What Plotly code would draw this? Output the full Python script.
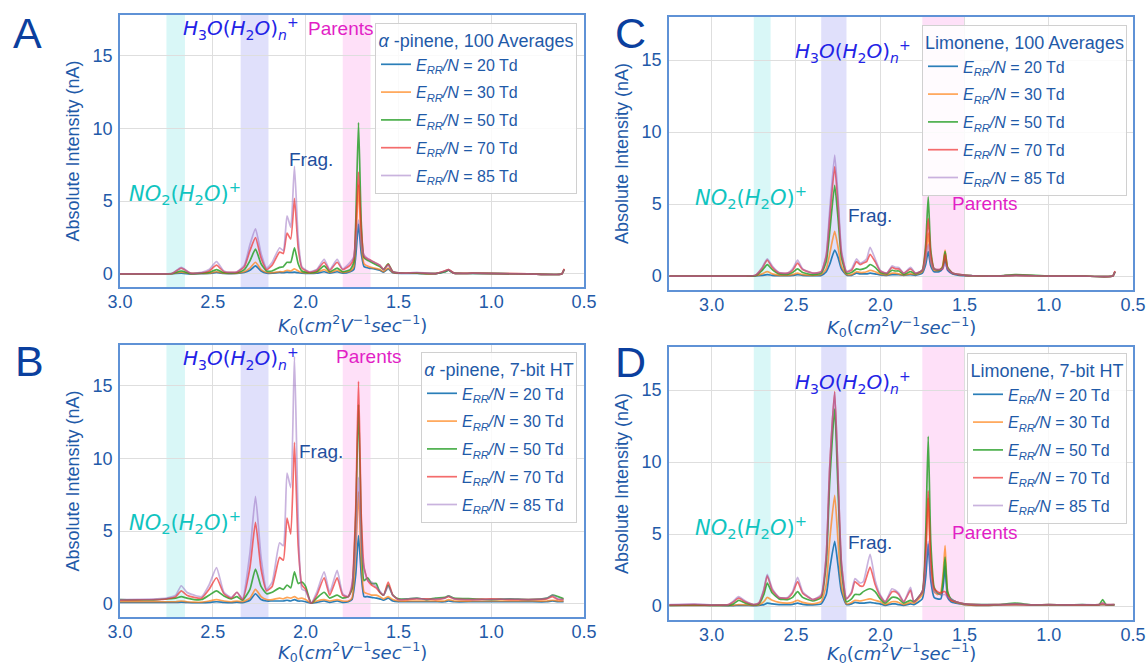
import plotly.graph_objects as go

# ---------------- data ----------------
energies = ["20", "30", "50", "70", "85"]

# Panel A: alpha-pinene, 100 averages
kA = [3.00, 2.80, 2.72, 2.67, 2.62, 2.56, 2.52, 2.48, 2.44, 2.40, 2.37, 2.33, 2.30, 2.27, 2.24, 2.21,
      2.18, 2.14, 2.12, 2.10, 2.08, 2.06, 2.04, 2.02, 1.98, 1.94, 1.90, 1.87, 1.83, 1.80, 1.76, 1.74,
      1.73, 1.715, 1.70, 1.685, 1.66, 1.63, 1.60, 1.58, 1.555, 1.53, 1.48, 1.40, 1.30, 1.25, 1.23,
      1.20, 1.10, 0.80, 0.62, 0.607]
A_20 = [0, 0, .01, .05, 0, .02, .03, .1, .03, .02, .03, .1, .25, .55, .2, .05,
        .05, .1, .08, .12, .1, .12, .08, .05, .03, .05, .15, .05, .15, .05, .15, .3,
        1.2, 3.4, 1.4, .5, .4, .35, .25, .12, .35, .08, .03, .03, .02, .15, .25,
        .05, .03, 0, 0, .3]
A_30 = [0, 0, .01, .12, .02, .03, .05, .15, .05, .03, .05, .15, .4, .8, .3, .1,
        .08, .15, .15, .25, .2, .35, .2, .1, .05, .1, .3, .1, .25, .1, .2, .5,
        2.0, 6.1, 2.0, .7, .5, .4, .3, .15, .4, .1, .05, .05, .02, .2, .3,
        .05, .05, 0, 0, .3]
A_50 = [0, 0, .02, .2, .02, .05, .1, .3, .08, .05, .08, .3, .9, 1.7, .7, .2,
        .2, .45, .5, .8, .8, 1.8, .7, .2, .08, .15, .55, .15, .4, .15, .3, .8,
        3.5, 10.4, 3.5, 1.1, .9, .7, .5, .3, .7, .15, .05, .05, .02, .15, .25,
        .05, .03, 0, 0, .3]
A_70 = [0, 0, .03, .4, .05, .08, .2, .6, .15, .1, .12, .5, 1.6, 2.5, 1.1, .3,
        .6, 1.5, 1.4, 2.8, 2.4, 5.2, 1.8, .4, .12, .25, .8, .25, .8, .3, .6, 1.1,
        3.0, 7.0, 3.0, 1.2, 1.0, .8, .6, .3, .65, .15, .05, .08, .02, .2, .3,
        .05, .05, 0, 0, .35]
A_85 = [0, 0, .03, .45, .05, .1, .3, .85, .2, .1, .15, .6, 2.0, 3.1, 1.4, .4,
        .8, 1.8, 1.6, 4.0, 3.2, 7.4, 2.5, .5, .15, .3, 1.0, .3, 1.0, .35, .8, 1.2,
        2.2, 3.7, 2.0, 1.3, 1.0, .8, .6, .3, .6, .15, .05, .1, .02, .2, .3,
        .05, .05, 0, 0, .3]

# Panel B: alpha-pinene, 7-bit HT
kB = [3.00, 2.90, 2.80, 2.75, 2.70, 2.67, 2.64, 2.60, 2.56, 2.52, 2.48, 2.44, 2.40, 2.37, 2.34, 2.30,
      2.27, 2.24, 2.21, 2.18, 2.14, 2.12, 2.10, 2.08, 2.06, 2.04, 2.02, 2.00, 1.97, 1.94, 1.90, 1.87,
      1.83, 1.80, 1.77, 1.75, 1.73, 1.715, 1.70, 1.685, 1.665, 1.645, 1.62, 1.60, 1.58, 1.555, 1.53,
      1.50, 1.45, 1.40, 1.35, 1.30, 1.25, 1.23, 1.20, 1.10, 1.00, 0.90, 0.80, 0.70, 0.67, 0.64, 0.61]
B_20 = [.1, .1, .1, .1, .1, .12, .1, .08, .08, .1, .15, .1, .08, .12, .08, .25,
        .7, .3, .2, .2, .2, .2, .25, .2, .3, .2, .2, .15, .05, .1, .2, .1,
        .2, .1, .15, .3, 2.0, 4.7, 2.0, .5, .5, .45, .4, .35, .25, .4, .2,
        .15, .15, .15, .15, .15, .15, .2, .15, .15, .15, .15, .15, .15, .2, .15, .15]
B_30 = [.15, .15, .15, .15, .15, .2, .15, .12, .12, .2, .3, .2, .15, .2, .15, .4,
        1.0, .5, .3, .3, .4, .35, .45, .4, .5, .35, .4, .3, .05, .2, .3, .2,
        .3, .2, .2, .4, 3.5, 7.7, 3.0, .8, .7, .6, .6, .5, .35, .5, .3,
        .2, .2, .2, .2, .2, .2, .3, .2, .2, .2, .2, .2, .2, .25, .2, .2]
B_50 = [.3, .28, .3, .35, .4, .5, .4, .3, .3, .6, .9, .55, .35, .5, .25, 1.0,
        2.4, 1.2, .7, .8, 1.1, 1.0, 1.3, 1.1, 2.2, 1.4, 1.5, 1.2, .05, .4, .8, .4,
        .6, .4, .5, 1.0, 6.0, 13.7, 5.5, 1.6, 1.8, 1.4, 1.4, .8, .6, 1.3, .6,
        .35, .35, .4, .3, .4, .45, .55, .4, .35, .3, .35, .3, .4, .6, .5, .35]
B_70 = [.25, .28, .3, .35, .5, .9, .6, .45, .4, 1.0, 1.8, .7, .4, .8, .3, 2.5,
        5.6, 2.4, .9, 1.2, 3.2, 3.0, 5.9, 4.8, 11.1, 4.0, 1.3, 1.0, .05, .6, 1.8, .6,
        1.8, .6, .5, 1.2, 6.5, 15.3, 6.0, 2.5, 1.6, 1.3, 1.1, .8, .6, 1.5, .6,
        .3, .3, .35, .35, .3, .4, .5, .35, .3, .35, .3, .3, .35, .5, .3, .3]
B_85 = [.3, .32, .35, .4, .6, 1.25, .8, .6, .5, 1.3, 2.5, .8, .45, .8, .35, 3.5,
        7.4, 3.2, 1.0, 1.5, 4.2, 4.0, 9.0, 8.0, 17.0, 6.0, 1.0, .9, .05, .8, 2.2, .8,
        2.3, .7, .5, 1.4, 4.0, 8.7, 4.0, 2.5, 1.6, 1.5, 1.2, .9, .6, 1.2, .6,
        .3, .35, .4, .3, .35, .4, .55, .35, .3, .3, .35, .3, .4, .6, .35, .3]

# Panel C: limonene, 100 averages
kC = [3.25, 3.00, 2.80, 2.74, 2.70, 2.67, 2.64, 2.60, 2.55, 2.52, 2.49, 2.46, 2.40, 2.35, 2.32, 2.30,
      2.27, 2.25, 2.23, 2.20, 2.17, 2.14, 2.12, 2.10, 2.08, 2.06, 2.03, 2.00, 1.96, 1.93, 1.91, 1.89,
      1.86, 1.82, 1.79, 1.75, 1.73, 1.715, 1.70, 1.68, 1.65, 1.63, 1.615, 1.60, 1.57, 1.53, 1.45,
      1.30, 1.20, 1.00, 0.80, 0.62, 0.607]
C_20 = [0, 0, 0, .01, .05, .1, .05, .03, .03, .05, .1, .05, .03, .05, .3, .8,
        1.8, 1.3, .5, .08, .05, .2, .15, .15, .15, .2, .15, .08, .05, .1, .1, .1,
        .05, .1, .05, .2, .8, 1.7, .7, .3, .3, .5, 1.2, .4, .15, .05, .02,
        0, .05, 0, 0, 0, .3]
C_30 = [0, 0, 0, .02, .15, .3, .15, .05, .05, .1, .2, .1, .05, .1, .5, 1.5,
        3.1, 2.0, .7, .1, .1, .3, .25, .25, .3, .4, .3, .15, .08, .2, .2, .15,
        .08, .15, .1, .3, 1.2, 3.0, 1.0, .4, .4, .7, 1.8, .6, .2, .1, .02,
        0, .05, 0, 0, 0, .3]
C_50 = [0, 0, 0, .03, .4, .8, .45, .15, .12, .25, .5, .25, .1, .2, 1.0, 3.0,
        6.3, 4.0, 1.3, .2, .25, .5, .45, .5, .6, .8, .6, .25, .15, .4, .35, .35,
        .12, .3, .15, .4, 2.2, 5.5, 1.8, .5, .4, .6, 1.7, .6, .2, .1, .02,
        0, .1, 0, 0, 0, .3]
C_70 = [0, 0, 0, .05, .55, 1.1, .6, .22, .2, .4, .9, .45, .2, .3, 1.4, 4.0,
        7.6, 5.0, 1.6, .3, .4, 1.0, .8, .9, 1.0, 1.5, 1.0, .35, .2, .6, .5, .5,
        .2, .5, .2, .4, 1.8, 4.0, 1.5, .5, .45, .5, 1.5, .5, .2, .1, .02,
        0, .05, 0, 0, 0, .35]
C_85 = [0, 0, 0, .05, .6, 1.2, .7, .25, .2, .5, 1.1, .5, .2, .3, 1.5, 4.5,
        8.4, 5.5, 1.8, .3, .5, 1.2, .9, 1.0, 1.2, 2.0, 1.2, .4, .2, .7, .6, .6,
        .2, .6, .2, .4, 1.2, 2.2, 1.0, .5, .45, .5, .8, .5, .2, .1, .02,
        0, .05, 0, 0, 0, .3]

# Panel D: limonene, 7-bit HT
kD = [3.25, 3.10, 3.00, 2.90, 2.87, 2.84, 2.80, 2.75, 2.72, 2.69, 2.67, 2.64, 2.60, 2.55, 2.52, 2.49,
      2.46, 2.40, 2.35, 2.32, 2.30, 2.27, 2.25, 2.23, 2.20, 2.17, 2.15, 2.12, 2.10, 2.06, 2.03, 2.00,
      1.97, 1.93, 1.91, 1.89, 1.86, 1.82, 1.80, 1.75, 1.73, 1.715, 1.70, 1.68, 1.66, 1.64, 1.625,
      1.615, 1.60, 1.58, 1.55, 1.50, 1.40, 1.30, 1.20, 1.10, 1.00, 0.90, 0.80, 0.70, 0.68, 0.66, 0.61]
D_20 = [.05, .05, .05, .03, .03, .05, .05, .03, .05, .1, .2, .15, .1, .1, .12, .2,
        .12, .08, .15, .8, 2.5, 4.5, 2.8, 1.0, .1, .15, .25, .2, .2, .25, .2, .15,
        .05, .15, .15, .1, .05, .15, .1, .5, 2.0, 4.3, 1.8, .6, .5, .5, 1.5,
        2.8, .6, .3, .2, .1, .05, .08, .1, .08, .08, .08, .08, .08, .1, .08, .08]
D_30 = [.05, .05, .05, .05, .05, .1, .08, .05, .08, .3, .6, .4, .25, .2, .25, .4,
        .25, .15, .3, 1.5, 4.5, 7.7, 4.5, 1.4, .15, .25, .4, .35, .4, .5, .4, .3,
        .1, .3, .3, .25, .1, .25, .2, .8, 3.5, 7.5, 3.0, 1.0, .8, 1.0, 2.5,
        4.2, 1.0, .4, .25, .1, .05, .08, .1, .08, .08, .08, .08, .08, .1, .08, .08]
D_50 = [.05, .08, .05, .05, .15, .4, .2, .08, .15, .8, 1.6, .9, .5, .45, .6, 1.0,
        .6, .35, .6, 3.0, 8.5, 13.7, 8.0, 2.6, .3, .5, .8, .8, 1.0, 1.2, 1.0, .5,
        .2, .6, .6, .5, .2, .4, .3, 1.0, 5.0, 11.8, 4.5, 1.3, .9, .8, 2.0,
        3.4, 1.0, .5, .3, .15, .1, .1, .2, .08, .1, .08, .1, .1, .45, .1, .1]
D_70 = [.08, .1, .07, .1, .3, .55, .3, .1, .2, 1.1, 2.1, 1.1, .6, .55, .9, 1.7,
        .9, .45, .7, 3.5, 9.5, 14.9, 9.0, 3.0, .5, .9, 1.7, 1.4, 1.4, 2.7, 1.5, .7,
        .3, 1.0, 1.0, .8, .3, 1.1, .3, 1.0, 3.8, 8.0, 3.2, 1.2, 1.0, .9, 1.0,
        1.0, .7, .4, .3, .15, .08, .1, .12, .08, .1, .08, .08, .1, .2, .1, .1]
D_85 = [.1, .15, .08, .1, .35, .65, .35, .1, .2, 1.2, 2.2, 1.2, .6, .6, 1.0, 2.0,
        1.0, .45, .8, 3.5, 9.5, 14.8, 9.0, 3.0, .5, 1.0, 1.9, 1.6, 1.7, 3.6, 1.8, .8,
        .3, 1.2, 1.1, .9, .3, 1.3, .3, 1.0, 3.0, 4.5, 2.0, 1.0, .9, .8, .8,
        .8, .6, .5, .3, .15, .1, .1, .15, .08, .1, .08, .1, .1, .2, .1, .1]

legend_titles = ["<i>α</i> -pinene, 100 Averages", "<i>α</i> -pinene, 7-bit HT",
                 "Limonene, 100 Averages", "Limonene, 7-bit HT"]
panel_letters = ["A", "B", "C", "D"]
x_title = "<i>K</i><sub>0</sub>(<i>cm</i><sup>2</sup><i>V</i><sup>−1</sup><i>sec</i><sup>−1</sup>)"
y_title = "Absolute Intensity (nA)"

# ---------------- styling ----------------
W, H = 1148, 666
colors = ["rgba(31,119,180,0.95)", "rgba(255,127,14,0.7)", "rgba(44,160,44,0.85)",
          "rgba(240,45,45,0.7)", "rgba(148,103,189,0.5)"]
TXT = "#1f5aa8"
SPINE = "#5f92d6"
GRID = "#dedede"
SANS = "Liberation Sans, Arial, sans-serif"
MATH = "DejaVu Sans, sans-serif"

def px_x(p):
    return p / W

def px_y(p):
    return 1 - p / H

panels = [
    dict(xa="x", ya="y", k=kA, ys=[A_20, A_30, A_50, A_70, A_85], lg="legend",
         xdom=[px_x(120), px_x(584)], ydom=[px_y(287), px_y(15)], xr=[3.0, 0.5], yr=[-0.9, 17.8],
         bands=[(2.75, 2.65, "c"), (2.35, 2.20, "b"), (1.80, 1.65, "m")], xt=(352, 325)),
    dict(xa="x2", ya="y2", k=kB, ys=[B_20, B_30, B_50, B_70, B_85], lg="legend2",
         xdom=[px_x(120), px_x(584)], ydom=[px_y(617), px_y(345)], xr=[3.0, 0.5], yr=[-0.9, 17.8],
         bands=[(2.75, 2.65, "c"), (2.35, 2.20, "b"), (1.80, 1.65, "m")], xt=(352, 652)),
    dict(xa="x3", ya="y3", k=kC, ys=[C_20, C_30, C_50, C_70, C_85], lg="legend3",
         xdom=[px_x(669), px_x(1133)], ydom=[px_y(290), px_y(17)], xr=[3.253, 0.5], yr=[-0.97, 18.0],
         bands=[(2.75, 2.65, "c"), (2.35, 2.20, "b"), (1.75, 1.50, "m")], xt=(901, 327)),
    dict(xa="x4", ya="y4", k=kD, ys=[D_20, D_30, D_50, D_70, D_85], lg="legend4",
         xdom=[px_x(669), px_x(1133)], ydom=[px_y(620), px_y(347)], xr=[3.253, 0.5], yr=[-0.97, 18.0],
         bands=[(2.75, 2.65, "c"), (2.35, 2.20, "b"), (1.75, 1.50, "m")], xt=(901, 653)),
]
band_fill = {"c": "rgba(0,200,200,0.15)", "b": "rgba(70,70,230,0.17)", "m": "rgba(245,0,200,0.12)"}

fig = go.Figure()
layout = dict(width=W, height=H, margin=dict(l=0, r=0, t=0, b=0, autoexpand=False),
              paper_bgcolor="white", plot_bgcolor="white", showlegend=True,
              font=dict(family=SANS, size=16, color=TXT))
shapes = []
annotations = []

legend_pos = [(px_x(577), px_y(23)), (px_x(577), px_y(352)), (px_x(1127), px_y(25)), (px_x(1127), px_y(353))]

for i, p in enumerate(panels):
    for lab, col, yv in zip(energies, colors, p["ys"]):
        fig.add_trace(go.Scatter(
            x=p["k"], y=yv, mode="lines",
            line=dict(color=col, width=1.7, shape="spline", smoothing=0.5),
            name="<i>E</i><sub><i>RR</i></sub><i>/N</i> = %s Td" % lab,
            xaxis=p["xa"], yaxis=p["ya"], legend=p["lg"], legendgroup=p["lg"] + lab))
    xkey = "xaxis" if p["xa"] == "x" else "xaxis" + p["xa"][1:]
    ykey = "yaxis" if p["ya"] == "y" else "yaxis" + p["ya"][1:]
    layout[xkey] = dict(domain=p["xdom"], range=p["xr"], anchor=p["ya"], automargin=False,
                        tickvals=[3.0, 2.5, 2.0, 1.5, 1.0, 0.5],
                        ticktext=["3.0", "2.5", "2.0", "1.5", "1.0", "0.5"],
                        showgrid=True, gridcolor=GRID, gridwidth=1, zeroline=False,
                        showline=True, mirror=True, linecolor=SPINE, linewidth=1.5,
                        ticks="", ticklabelstandoff=-2, tickfont=dict(size=18, color=TXT, family=SANS))
    layout[ykey] = dict(domain=p["ydom"], range=p["yr"], anchor=p["xa"], automargin=False,
                        tickvals=[0, 5, 10, 15],
                        showgrid=True, gridcolor=GRID, gridwidth=1, zeroline=False,
                        showline=True, mirror=True, linecolor=SPINE, linewidth=1.5,
                        ticks="", ticklabelstandoff=2, tickfont=dict(size=18, color=TXT, family=SANS),
                        title=dict(text=y_title, font=dict(size=18, color=TXT, family=SANS), standoff=8))
    # x-axis title as a paper annotation so the bottom row is not pushed up
    tx, ty = p["xt"]
    annotations.append(dict(x=px_x(tx), y=px_y(ty), xref="paper", yref="paper", text=x_title, showarrow=False,
                            font=dict(size=18, color=TXT, family=MATH), xanchor="center", yanchor="middle"))
    for x0, x1, c in p["bands"]:
        shapes.append(dict(type="rect", xref=p["xa"], yref=p["ya"] + " domain", x0=x0, x1=x1, y0=0, y1=1,
                           fillcolor=band_fill[c], line=dict(width=0), layer="below"))
    lx, ly = legend_pos[i]
    layout[p["lg"]] = dict(x=lx, y=ly, xanchor="right", yanchor="top", xref="paper", yref="paper",
                           bgcolor="rgba(255,255,255,0.85)", bordercolor="#d0d0d0", borderwidth=1,
                           font=dict(size=16, color=TXT, family=SANS), tracegroupgap=4, itemwidth=30,
                           title=dict(text=legend_titles[i], side="top center",
                                      font=dict(size=18, color=TXT, family=SANS)))

# panel letters
for (lx, ly), letter in zip([(27, 33), (29, 361), (630, 33), (630, 362)], panel_letters):
    annotations.append(dict(x=px_x(lx), y=px_y(ly), xref="paper", yref="paper", text=letter, showarrow=False,
                            font=dict(size=43, color="#0b3f9e", family=SANS), xanchor="center", yanchor="middle"))

H3O = "<i>H</i><sub>3</sub><i>O</i>(<i>H</i><sub>2</sub><i>O</i>)<sub><i>n</i></sub><sup>+</sup>"
NO2 = "<i>NO</i><sub>2</sub>(<i>H</i><sub>2</sub><i>O</i>)<sup>+</sup>"
labels = [
    # (axis, x, y, text, color, size, family)
    ("", 2.348, 16.9, H3O, "#2323e6", 20, MATH),
    ("", 1.81, 16.9, "Parents", "#e21fc6", 19, SANS),
    ("", 1.97, 7.9, "Frag.", "#1f4f9e", 19, SANS),
    ("", 2.65, 5.55, NO2, "#10c4c0", 21, MATH),
    ("2", 2.348, 16.9, H3O, "#2323e6", 20, MATH),
    ("2", 1.66, 17.0, "Parents", "#e21fc6", 19, SANS),
    ("2", 1.917, 10.5, "Frag.", "#1f4f9e", 19, SANS),
    ("2", 2.65, 5.6, NO2, "#10c4c0", 21, MATH),
    ("3", 2.16, 15.6, H3O, "#2323e6", 20, MATH),
    ("3", 1.379, 5.05, "Parents", "#e21fc6", 19, SANS),
    ("3", 2.06, 4.2, "Frag.", "#1f4f9e", 19, SANS),
    ("3", 2.767, 5.5, NO2, "#10c4c0", 21, MATH),
    ("4", 2.16, 15.5, H3O, "#2323e6", 20, MATH),
    ("4", 1.379, 5.1, "Parents", "#e21fc6", 19, SANS),
    ("4", 2.06, 4.4, "Frag.", "#1f4f9e", 19, SANS),
    ("4", 2.767, 5.5, NO2, "#10c4c0", 21, MATH),
]
for ax, x, y, t, c, s, fam in labels:
    annotations.append(dict(x=x, y=y, xref="x" + ax, yref="y" + ax, text=t, showarrow=False,
                            font=dict(size=s, color=c, family=fam), xanchor="center", yanchor="middle"))

layout["shapes"] = shapes
layout["annotations"] = annotations
fig.update_layout(**layout)
fig.write_html("out.html")
